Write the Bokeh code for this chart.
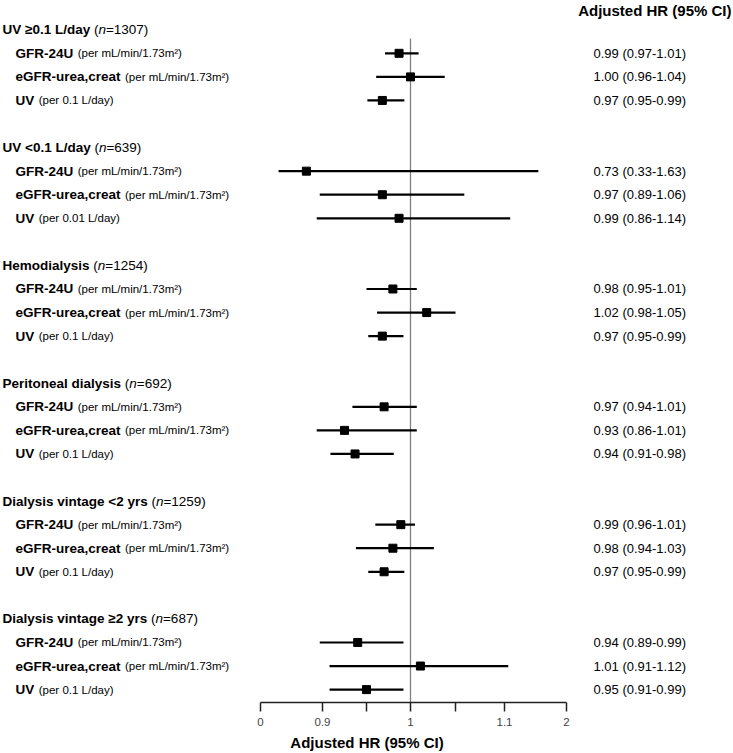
import numpy as np
from bokeh.plotting import figure
from bokeh.models import ColumnDataSource, Range1d, Label, LabelSet, FixedTicker
from bokeh.core.properties import value
from bokeh.embed import file_html
from bokeh.resources import INLINE

FONT = "Liberation Sans"

# ---------------- data ----------------
groups = ["UV \u22650.1 L/day", "UV <0.1 L/day", "Hemodialysis", "Peritoneal dialysis",
          "Dialysis vintage <2 yrs", "Dialysis vintage \u22652 yrs"]
group_n = [1307, 639, 1254, 692, 1259, 687]
measures = ["GFR-24U", "eGFR-urea,creat", "UV"]
gfr_unit = "(per mL/min/1.73m\u00b2)"
uv_units = ["(per 0.1 L/day)", "(per 0.01 L/day)", "(per 0.1 L/day)",
            "(per 0.1 L/day)", "(per 0.1 L/day)", "(per 0.1 L/day)"]

hr = [[0.987, 1.000, 0.968],
      [0.666, 0.968, 0.987],
      [0.980, 1.018, 0.968],
      [0.970, 0.925, 0.937],
      [0.989, 0.980, 0.970],
      [0.940, 1.011, 0.950]]
lo = [[0.971, 0.961, 0.951],
      [0.262, 0.860, 0.816],
      [0.950, 0.962, 0.952],
      [0.934, 0.816, 0.909],
      [0.960, 0.938, 0.952],
      [0.860, 0.908, 0.908]]
hi = [[1.009, 1.038, 0.993],
      [1.591, 1.059, 1.183],
      [1.007, 1.050, 0.992],
      [1.007, 1.007, 0.981],
      [1.005, 1.026, 0.993],
      [0.992, 1.154, 0.992]]
ci_text = [["0.99 (0.97-1.01)", "1.00 (0.96-1.04)", "0.97 (0.95-0.99)"],
           ["0.73 (0.33-1.63)", "0.97 (0.89-1.06)", "0.99 (0.86-1.14)"],
           ["0.98 (0.95-1.01)", "1.02 (0.98-1.05)", "0.97 (0.95-0.99)"],
           ["0.97 (0.94-1.01)", "0.93 (0.86-1.01)", "0.94 (0.91-0.98)"],
           ["0.99 (0.96-1.01)", "0.98 (0.94-1.03)", "0.97 (0.95-0.99)"],
           ["0.94 (0.89-0.99)", "1.01 (0.91-1.12)", "0.95 (0.91-0.99)"]]

axis_values = [0, 0.9, 0.95, 1.0, 1.05, 1.1, 2.0]
axis_labels = ["0", "0.9", "", "1", "", "1.1", "2"]

# ---------------- broken (piecewise) axis scale ----------------
AXIS_DISPLAY = [0, 62, 106, 150, 195, 244, 306]


def to_disp(v):
    return np.interp(v, axis_values, AXIS_DISPLAY)


# Arial / Liberation Sans advance widths (1/1000 em) for text layout
REG_W = {' ': 278, '(': 333, ')': 333, '=': 584, '.': 278, '/': 278, '-': 333,
         'p': 556, 'e': 556, 'r': 333, 'm': 833, 'L': 556, 'i': 222, 'n': 556,
         'd': 556, 'a': 556, 'y': 500, '\u00b2': 333}
BOLD_W = {' ': 278, '\u2265': 549, '<': 584, '.': 278, ',': 278, '-': 333, '/': 278,
          'U': 722, 'V': 667, 'L': 611, 'a': 556, 'd': 611, 'y': 556, 'H': 722,
          'e': 556, 'm': 889, 'o': 611, 'i': 278, 'l': 278, 's': 556, 'P': 667,
          'r': 389, 't': 333, 'n': 611, 'D': 722, 'v': 556, 'g': 611, 'G': 778,
          'F': 611, 'R': 722, 'c': 556, 'u': 611}


def tw(s, size, bold=False):
    t = BOLD_W if bold else REG_W
    return sum(t.get(c, 556) for c in s) * size / 1000.0


# ---------------- layout constants ----------------
X_START, X_END = -260, 473      # whole canvas width in display units (1 unit = 1 px)
Y_TOP, Y_BOTTOM = -1.2415, 28.547
REF_TOP = 0.369                 # where the reference line at HR=1 begins
HEAD_X = -258
ITEM_X = -245
CI_X = 333
HEAD_SIZE = 13.5

rows_y, xs, x0s, x1s, cis = [], [], [], [], []
name_x, name_y, name_t = [], [], []
unit_x, unit_y, unit_t = [], [], []
head_x, head_y, head_t = [], [], []
reg_x, reg_y, reg_t = [], [], []
it_x, it_y, it_t = [], [], []

for g, gname in enumerate(groups):
    r0 = 5 * g
    head_x.append(HEAD_X); head_y.append(r0); head_t.append(gname)
    xp = HEAD_X + tw(gname + " ", HEAD_SIZE, True)
    reg_x.append(xp); reg_y.append(r0); reg_t.append("(")
    xn = xp + tw("(", HEAD_SIZE)
    it_x.append(xn); it_y.append(r0); it_t.append("n")
    reg_x.append(xn + tw("n", HEAD_SIZE)); reg_y.append(r0); reg_t.append("=%d)" % group_n[g])
    for k, m in enumerate(measures):
        r = r0 + 1 + k
        rows_y.append(r)
        xs.append(to_disp(hr[g][k]))
        x0s.append(to_disp(lo[g][k]))
        x1s.append(to_disp(hi[g][k]))
        cis.append(ci_text[g][k])
        name_x.append(ITEM_X); name_y.append(r); name_t.append(m)
        unit_x.append(ITEM_X + tw(m, HEAD_SIZE, True) + 4.5)
        unit_y.append(r)
        unit_t.append(uv_units[g] if m == "UV" else gfr_unit)

p = figure(width=733, height=753, output_backend="svg", toolbar_location=None,
           x_range=Range1d(X_START, X_END), y_range=Range1d(Y_BOTTOM, Y_TOP),
           y_axis_location=None,
           min_border_left=0, min_border_right=0,
           min_border_top=0, min_border_bottom=50)
p.outline_line_color = None
p.xgrid.visible = False
p.ygrid.visible = False
p.background_fill_color = "white"
p.border_fill_color = "white"

ax = p.xaxis[0]
ax.bounds = (AXIS_DISPLAY[0], AXIS_DISPLAY[-1])
ax.ticker = FixedTicker(ticks=AXIS_DISPLAY)
ax.major_label_overrides = {d: l for d, l in zip(AXIS_DISPLAY, axis_labels)}
ax.minor_tick_line_color = None
ax.major_tick_in = 0
ax.major_tick_out = 9
ax.major_tick_line_width = 1.5
ax.major_tick_line_color = "#222222"
ax.axis_line_width = 1.5
ax.axis_line_color = "#222222"
ax.major_label_text_font = FONT
ax.major_label_text_font_size = "11.5px"
ax.major_label_text_color = "#444444"
ax.major_label_standoff = 6
ax.axis_label = "Adjusted HR (95% CI)"
ax.axis_label_text_font = FONT
ax.axis_label_text_font_size = "15px"
ax.axis_label_text_font_style = "bold"
ax.axis_label_text_color = "black"
ax.axis_label_standoff = 5

# reference line at HR = 1
x_one = float(to_disp(1.0))
p.segment(x0=[x_one], y0=[REF_TOP], x1=[x_one], y1=[Y_BOTTOM],
          line_color="#7f7f7f", line_width=1.3)

src = ColumnDataSource(dict(y=rows_y, x=xs, x0=x0s, x1=x1s))
p.segment(x0="x0", y0="y", x1="x1", y1="y", source=src, line_color="black", line_width=2.2)
p.scatter(x="x", y="y", source=src, marker="square", size=8,
          fill_color="black", line_color="black")


def add_labels(x, y, t, size, style, align="left"):
    s = ColumnDataSource(dict(x=x, y=y, t=t))
    p.add_layout(LabelSet(x="x", y="y", text="t", source=s,
                          text_font=value(FONT), text_font_size=value(size),
                          text_font_style=value(style), text_align=value(align),
                          text_baseline=value("middle"), text_color=value("black")))


add_labels(head_x, head_y, head_t, "13.5px", "bold")
add_labels(reg_x, reg_y, reg_t, "13.5px", "normal")
add_labels(it_x, it_y, it_t, "13.5px", "italic")
add_labels(name_x, name_y, name_t, "13.5px", "bold")
add_labels(unit_x, unit_y, unit_t, "11.5px", "normal")
add_labels([CI_X] * len(cis), rows_y, cis, "13px", "normal")

p.add_layout(Label(x=731, y=701, x_units="screen", y_units="screen",
                   text="Adjusted HR (95% CI)", text_font=FONT, text_font_size="15px",
                   text_font_style="bold", text_align="right", text_baseline="top",
                   text_color="black"))

open("out.html", "w").write(file_html(p, INLINE))
